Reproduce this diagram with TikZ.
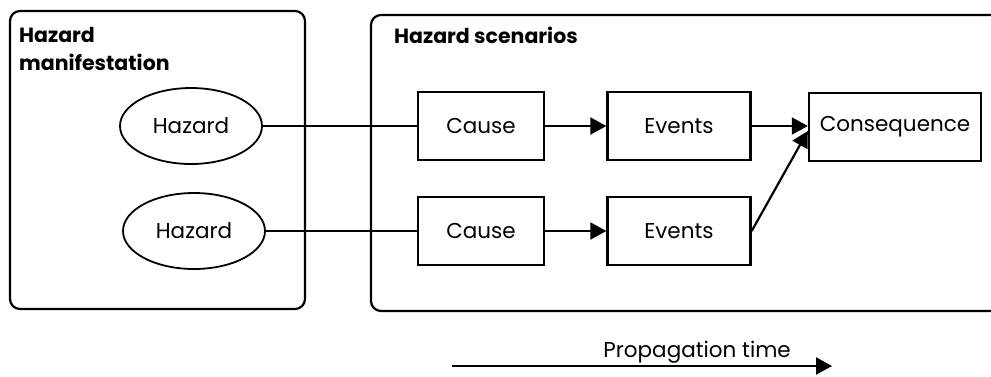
\documentclass[tikz,border=0pt]{standalone}
\usepackage{fontspec}
\setmainfont{Poppins}
\usetikzlibrary{arrows.meta,shapes.geometric}
\begin{document}
\begin{tikzpicture}[x=1pt,y=-1pt,
  label/.style={font=\fontsize{21.5}{25}\selectfont},
  grouptitle/.style={font=\fontsize{20.5}{28}\selectfont\bfseries, anchor=base west,
    inner sep=0pt, align=left},
  group/.style={draw, line width=2.2pt, rounded corners=10pt},
  hazardnode/.style={label, draw, ellipse, line width=1.8pt, inner sep=0pt,
    minimum width=142pt, minimum height=76pt},
  stepbox/.style={label, draw, rectangle, line width=2.4pt, inner sep=2pt,
    minimum height=68pt},
  link/.style={line width=2.2pt},
  flow/.style={line width=2.2pt, -{Triangle[length=16pt, width=17pt]}}
]
\clip (0,0) rectangle (991,376);

% grouping frames
\draw[group] (10,11) rectangle (305,309);
\draw[group] (371,15) rectangle (1020,311);
\node[grouptitle] (ttl1) at (19,70) {Hazard\\manifestation};
\node[grouptitle] (ttl2) at (394,43) {Hazard scenarios};

% hazards
\node[hazardnode] (hz1) at (191,126) {Hazard};
\node[hazardnode] (hz2) at (194,231) {Hazard};

% scenario chain
\node[stepbox, minimum width=126pt] (cause1) at (481,126) {Cause};
\node[stepbox, minimum width=143pt] (ev1) at (679,126) {Events};
\node[stepbox, minimum width=172pt] (cons) at (895,127) {Consequence};
\node[stepbox, minimum width=126pt] (cause2) at (481,231) {Cause};
\node[stepbox, minimum width=143pt] (ev2) at (679,231) {Events};

\draw[link] (hz1.east) -- (cause1.west);
\draw[link] (hz2.east) -- (cause2.west);
\draw[flow] (cause1.east) -- (ev1.west);
\draw[flow] (cause2.east) -- (ev2.west);
\draw[flow] (ev1.east) -- (ev1.east -| cons.west);
\draw[flow] (ev2.east) -- ([yshift=-4pt]cons.west);

% time axis
\coordinate (t0) at (452,366);
\coordinate (t1) at (832,366);
\draw[flow] (t0) -- (t1);
\node[label, anchor=base east, inner sep=0pt] (tlabel) at (791,357) {Propagation time};
\end{tikzpicture}
\end{document}
